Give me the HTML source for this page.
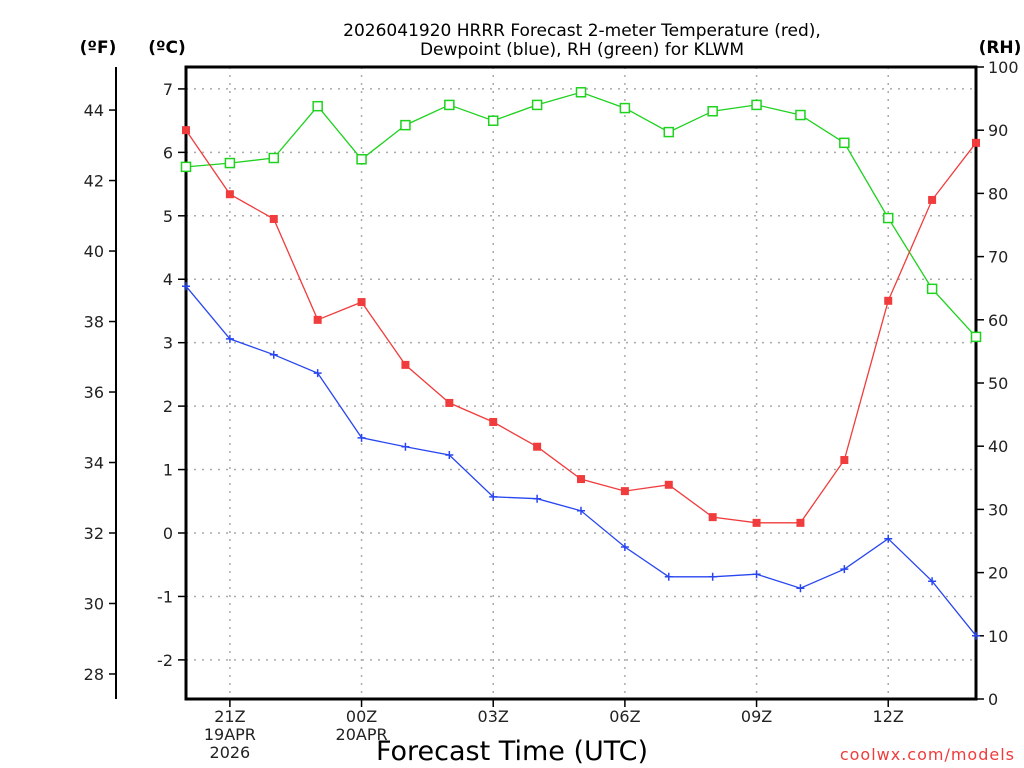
<!DOCTYPE html>
<html><head><meta charset="utf-8"><style>
html,body{margin:0;padding:0;background:#fff}
svg{display:block;font-family:"DejaVu Sans","Liberation Sans",sans-serif}
</style></head><body>
<svg id="c" width="1024" height="768" viewBox="0 0 1024 768">
<rect width="1024" height="768" fill="#fff"/>
<g id="grid"></g>
<g id="axes"></g>
<g id="series"></g>
<text x="582" y="36" text-anchor="middle" font-size="17">2026041920 HRRR Forecast 2-meter Temperature (red),</text>
<text x="582" y="55" text-anchor="middle" font-size="17">Dewpoint (blue), RH (green) for KLWM</text>
<text x="98" y="53" text-anchor="middle" font-size="17" font-weight="bold">(ºF)</text>
<text x="167" y="53" text-anchor="middle" font-size="17" font-weight="bold">(ºC)</text>
<text x="1000" y="53" text-anchor="middle" font-size="17" font-weight="bold">(RH)</text>
<text x="512" y="760" text-anchor="middle" font-size="27">Forecast Time (UTC)</text>
<text x="1015" y="760" text-anchor="end" font-size="16" fill="#f03c3c" letter-spacing="1">coolwx.com/models</text>
</svg>
<script>
const hours = [20,21,22,23,24,25,26,27,28,29,30,31,32,33,34,35,36,37,38];
const tempC = [6.35,5.34,4.95,3.36,3.64,2.65,2.05,1.75,1.36,0.85,0.66,0.76,0.25,0.16,0.16,1.15,3.66,5.25,6.15];
const dewC = [3.89,3.06,2.81,2.52,1.50,1.36,1.23,0.57,0.54,0.35,-0.22,-0.69,-0.69,-0.65,-0.87,-0.57,-0.09,-0.76,-1.62];
const rh = [84.2,84.8,85.6,93.8,85.4,90.8,94.0,91.5,94.0,96.0,93.5,89.7,93.0,94.0,92.4,88.0,76.1,64.9,57.3];
const cTicks = [-2,-1,0,1,2,3,4,5,6,7];
const fTicks = [28,30,32,34,36,38,40,42,44];
const rhTicks = [0,10,20,30,40,50,60,70,80,90,100];
const xTicks = [21,24,27,30,33,36];
const xLabels = [["21Z","19APR","2026"],["00Z","20APR"],["03Z"],["06Z"],["09Z"],["12Z"]];

const L=186,R=976,T=67,B=699;
const xs=h=>L+(h-20)*(R-L)/18;
const yc=c=>533-c*63.44;
const yf=f=>yc((f-32)*5/9);
const yr=v=>B-v*(B-T)/100;
const NS='http://www.w3.org/2000/svg';
function mk(p,tag,a){const e=document.createElementNS(NS,tag);for(const k in a)e.setAttribute(k,a[k]);p.appendChild(e);return e;}
const grid=document.getElementById('grid'),axes=document.getElementById('axes'),ser=document.getElementById('series');

cTicks.forEach(c=>{const y=yc(c);
 const g=mk(grid,'line',{x1:L,x2:R,y1:y,y2:y,stroke:'#aaa','stroke-dasharray':'2,6','stroke-width':1.5});
 
 
 mk(axes,'line',{x1:L-8,x2:L,y1:y,y2:y,stroke:'#000','stroke-width':1.5});
 const t=mk(axes,'text',{x:L-13,y:y+6,'text-anchor':'end','font-size':16,fill:'#222'});t.textContent=c;
 
 
});
xTicks.forEach((h,i)=>{const x=xs(h);
 const g=mk(grid,'line',{x1:x,x2:x,y1:T,y2:B,stroke:'#aaa','stroke-dasharray':'2,6','stroke-width':1.5});
 
 
 mk(axes,'line',{x1:x,x2:x,y1:B,y2:B+8,stroke:'#000','stroke-width':1.5});
 xLabels[i].forEach((s,j)=>{const t=mk(axes,'text',{x:x,y:722+j*18,'text-anchor':'middle','font-size':16,fill:'#222'});t.textContent=s;
  
  });
});
mk(axes,'line',{x1:116,x2:116,y1:67,y2:699,stroke:'#000','stroke-width':2});
fTicks.forEach(f=>{const y=yf(f);
 mk(axes,'line',{x1:109,x2:116,y1:y,y2:y,stroke:'#000','stroke-width':1.5});
 const t=mk(axes,'text',{x:104,y:y+6,'text-anchor':'end','font-size':16,fill:'#222'});t.textContent=f;
 
 
});
rhTicks.forEach(v=>{const y=yr(v);
 mk(axes,'line',{x1:R,x2:R+8,y1:y,y2:y,stroke:'#000','stroke-width':1.5});
 const t=mk(axes,'text',{x:R+12,y:y+6,'text-anchor':'start','font-size':16,fill:'#222'});t.textContent=v;
 
 
});
mk(axes,'rect',{x:L,y:T,width:R-L,height:B-T,fill:'none',stroke:'#000','stroke-width':3});

function line(vals,yfn,col,name){
 const pts=vals.map((v,i)=>xs(hours[i]).toFixed(1)+','+yfn(v).toFixed(1)).join(' ');
 const p=mk(ser,'polyline',{points:pts,fill:'none',stroke:col,'stroke-width':1.3});
 
 
}
line(rh,yr,'#1ed21e','rh');
line(tempC,yc,'#f03c3c','temperature');
line(dewC,yc,'#2846f0','dewpoint');
rh.forEach((v,i)=>{const m=mk(ser,'rect',{x:xs(hours[i])-4.5,y:yr(v)-4.5,width:9,height:9,fill:'#fff',stroke:'#1ed21e','stroke-width':1.5});
 
 });
tempC.forEach((v,i)=>{const m=mk(ser,'rect',{x:xs(hours[i])-4,y:yc(v)-4,width:8,height:8,fill:'#f03c3c'});
 
 });
dewC.forEach((v,i)=>{const x=xs(hours[i]),y=yc(v);
 const m=mk(ser,'path',{d:`M${x-4},${y}H${x+4}M${x},${y-4}V${y+4}`,stroke:'#2846f0','stroke-width':1.5});
 
 });
</script>
</body></html>
